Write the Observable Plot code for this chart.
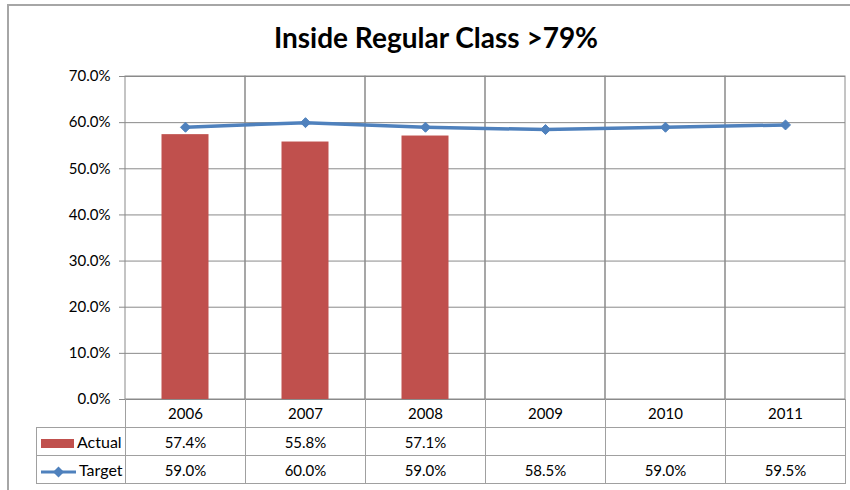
<!DOCTYPE html>
<html>
<head>
<meta charset="utf-8">
<script src="https://cdn.jsdelivr.net/npm/d3@7"></script>
<script src="https://cdn.jsdelivr.net/npm/@observablehq/plot@0.6"></script>
<style>
  html, body { margin: 0; padding: 0; background: #fff; }
  #wrap { position: relative; width: 850px; height: 490px; overflow: hidden; background: #fff; font-family: Lato, "Open Sans", sans-serif; }
  #border { position: absolute; left: 7px; top: 4px; width: 900px; height: 600px; border-left: 2px solid #a6a6a6; border-top: 2px solid #a6a6a6; box-sizing: border-box; }
  #title { position: absolute; left: 8px; width: 856px; top: 21px; text-align: center; font-weight: bold; font-size: 28px; line-height: 32px; color: #000; }
  #chart { position: absolute; left: 0; top: 0; }
  #table { position: absolute; left: 36px; top: 399px; border-collapse: collapse; table-layout: fixed; font-size: 15px; color: #000; }
  #table td { border: 1px solid #a0a0a0; text-align: center; padding: 0; }
  #table tr.years td { border-top: none; height: 28px; }
  #table tr.years td.blank { border: none; }
  #table tr.row td { height: 27px; }
  #table td.legend { text-align: left; padding-left: 4px; white-space: nowrap; font-size: 16px; }
  .sw { display: inline-block; vertical-align: middle; margin-right: 3px; }
</style>
</head>
<body>
<div id="wrap">
  <div id="border"></div>
  <div id="title"></div>
  <div id="chart"></div>
  <table id="table"></table>
</div>
<script>
const title = "Inside Regular Class >79%";
const years = ["2006", "2007", "2008", "2009", "2010", "2011"];
const actualValues = [0.574, 0.558, 0.571, null, null, null];
const targetValues = [0.590, 0.600, 0.590, 0.585, 0.590, 0.595];
const yTicks = [0, 0.1, 0.2, 0.3, 0.4, 0.5, 0.6, 0.7];
const seriesNames = ["Actual", "Target"];
const colors = {Actual: "#C0504D", Target: "#4F81BD"};

const pct = d3.format(".1%");
const actual = years.map((y, i) => ({year: y, value: actualValues[i]})).filter(d => d.value != null);
const target = years.map((y, i) => ({year: y, value: targetValues[i]}));

document.getElementById("title").textContent = title;

const gridColor = "#8a8a8a";
const chart = Plot.plot({
  width: 850,
  height: 412,
  marginLeft: 125,
  marginRight: 5,
  marginTop: 76,
  marginBottom: 13,
  style: {fontFamily: "Lato, 'Open Sans', sans-serif", fontSize: "15px", background: "transparent", overflow: "visible", color: "#000"},
  x: {domain: years, padding: 0, axis: null},
  y: {domain: [yTicks[0], yTicks[yTicks.length - 1]], axis: null},
  marks: [
    Plot.gridY(yTicks, {stroke: gridColor, strokeOpacity: 1}),
    Plot.barY(years, {x: d => d, y1: yTicks[0], y2: yTicks[yTicks.length - 1], fill: "none", stroke: gridColor}),
    Plot.axisY(yTicks, {tickFormat: pct, tickSize: 6, tickPadding: 9, stroke: gridColor, fill: "#000", label: null, fontSize: 15}),
    Plot.barY(actual, {x: "year", y: "value", fill: colors.Actual, insetLeft: 36.5, insetRight: 36.5}),
    Plot.line(target, {x: "year", y: "value", stroke: colors.Target, strokeWidth: 3.5}),
    Plot.dot(target, {x: "year", y: "value", symbol: "diamond2", r: 4.5, fill: colors.Target, stroke: colors.Target, strokeWidth: 1})
  ]
});
document.getElementById("chart").appendChild(chart);

// Data table
const table = document.getElementById("table");
const colgroup = document.createElement("colgroup");
colgroup.innerHTML = `<col style="width:89px">` + years.map(() => `<col style="width:120px">`).join("");
table.appendChild(colgroup);

const trY = document.createElement("tr");
trY.className = "years";
trY.innerHTML = `<td class="blank"></td>` + years.map(y => `<td>${y}</td>`).join("");
table.appendChild(trY);

const swatch = {
  Actual: `<svg class="sw" width="33" height="9"><rect x="0" y="0" width="33" height="9" fill="${colors.Actual}"/></svg>`,
  Target: `<svg class="sw" width="35" height="12"><line x1="0" y1="6" x2="35" y2="6" stroke="${colors.Target}" stroke-width="3"/><path d="M17.5 0.5 L23 6 L17.5 11.5 L12 6 Z" fill="${colors.Target}"/></svg>`
};
const rows = {Actual: actualValues, Target: targetValues};
for (const name of seriesNames) {
  const tr = document.createElement("tr");
  tr.className = "row";
  tr.innerHTML = `<td class="legend">${swatch[name]}${name}</td>` +
    rows[name].map(v => `<td>${v == null ? "" : pct(v)}</td>`).join("");
  table.appendChild(tr);
}
</script>
</body>
</html>
